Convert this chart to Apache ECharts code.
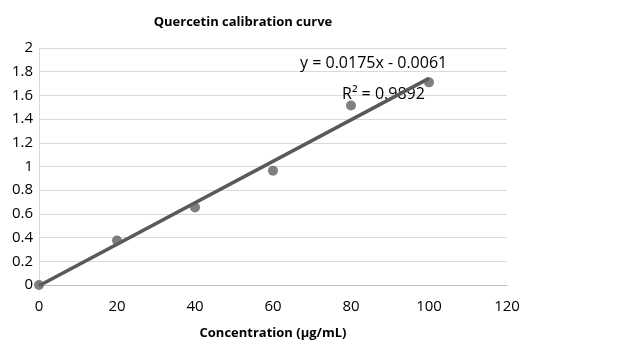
<!DOCTYPE html>
<html>
<head>
<meta charset="utf-8">
<script src="https://cdn.jsdelivr.net/npm/echarts@6/dist/echarts.min.js"></script>
<style>
  html, body { margin: 0; padding: 0; background: #fff; }
  #chart { width: 621px; height: 342px; }
</style>
</head>
<body>
<div id="chart"></div>
<script>
const concentrations = [0, 20, 40, 60, 80, 100];
const absorbance = [0, 0.375, 0.655, 0.965, 1.515, 1.71];
const slope = 0.0175;
const intercept = -0.0061;
const trendX = [0, 100];
const equationText = 'y = 0.0175x - 0.0061';
const r2Text = 'R² = 0.9892';

const font = '"Open Sans", "Noto Sans", sans-serif';
const chart = echarts.init(document.getElementById('chart'));

chart.setOption({
  animation: false,
  title: {
    text: 'Quercetin calibration curve',
    left: 238,
    top: 11,
    textAlign: 'center',
    textStyle: { fontFamily: font, fontSize: 13, fontWeight: 'bold', color: '#000' }
  },
  grid: { left: 39, right: 114, top: 48, bottom: 57, outerBoundsMode: 'none', containLabel: false },
  xAxis: {
    type: 'value',
    min: 0, max: 120, interval: 20,
    name: 'Concentration (µg/mL)',
    nameLocation: 'middle',
    nameGap: 42,
    nameTextStyle: { fontFamily: font, fontSize: 13, fontWeight: 'bold', color: '#000' },
    axisLine: { show: true, lineStyle: { color: '#bfbfbf', width: 1 } },
    axisTick: { show: false },
    splitLine: { show: false },
    axisLabel: { fontFamily: font, fontSize: 15, color: '#000', margin: 14 }
  },
  yAxis: {
    type: 'value',
    min: 0, max: 2, interval: 0.2,
    axisLine: { show: true, lineStyle: { color: '#d9d9d9', width: 1 } },
    axisTick: { show: false },
    splitLine: { show: true, lineStyle: { color: '#d9d9d9', width: 1 } },
    axisLabel: { fontFamily: font, fontSize: 15, color: '#000', margin: 6 }
  },
  series: [
    {
      type: 'line',
      data: trendX.map(x => [x, slope * x + intercept]),
      showSymbol: false,
      lineStyle: { color: '#595959', width: 3.5 },
      z: 2
    },
    {
      type: 'scatter',
      data: concentrations.map((x, i) => [x, absorbance[i]]),
      symbolSize: 10,
      itemStyle: { color: '#5f5f5f' },
      z: 3
    }
  ],
  graphic: [
    { type: 'text', left: 300, top: 55, z: 1, style: { text: equationText, font: '16px ' + font, fill: '#000' } },
    { type: 'text', left: 342, top: 86, z: 1, style: { text: r2Text, font: '16px ' + font, fill: '#000' } }
  ]
});
</script>
</body>
</html>
